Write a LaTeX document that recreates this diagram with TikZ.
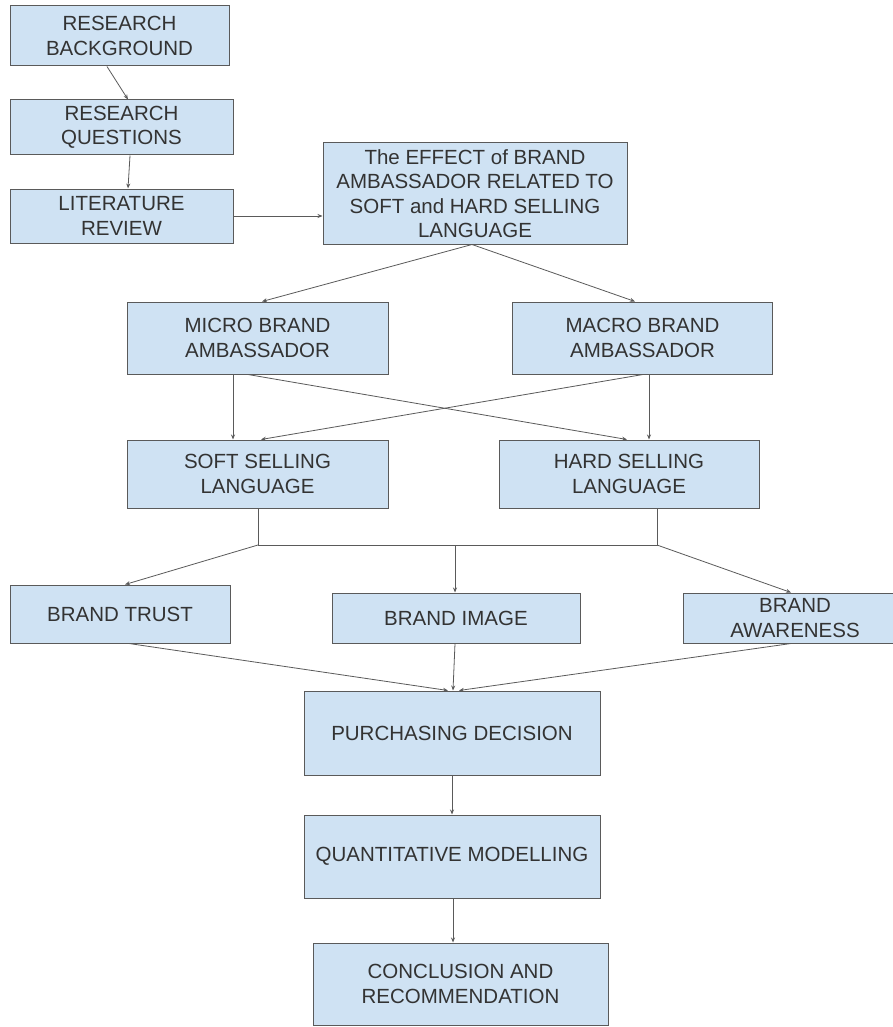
\documentclass[tikz,border=0pt]{standalone}
\usepackage{fontspec}
\setmainfont{Liberation Sans}
\usetikzlibrary{arrows.meta}
\definecolor{boxfill}{HTML}{CFE2F3}
\definecolor{boxline}{HTML}{5A5A5A}
\definecolor{txtgray}{HTML}{333333}
\tikzset{
	stage/.style={draw=boxline, fill=boxfill, line width=1pt, text=txtgray, align=center, inner sep=2pt,
		font=\fontsize{20.5}{24.5}\selectfont},
	link/.style={draw=boxline, line width=0.8pt, -{Stealth[length=5pt,width=4pt]}},
	plain/.style={draw=boxline, line width=0.8pt}
}
\begin{document}
\begin{tikzpicture}[x=1pt,y=1pt]
			\useasboundingbox (0,0) rectangle (893,-1027);
			\clip (0,0) rectangle (893,-1027);
			\fill[white] (0,0) rectangle (893,-1027);
			
			% left column
			\node[stage, minimum width=219pt, minimum height=60pt] (bg) at (119.5,-36) {RESEARCH\\BACKGROUND};
			\node[stage, minimum width=223pt, minimum height=55pt] (rq) at (121.5,-127.5) {RESEARCH\\QUESTIONS};
			\node[stage, minimum width=223pt, minimum height=54pt] (lit) at (121.5,-216) {LITERATURE\\REVIEW};
			\node[stage, minimum width=304pt, minimum height=101pt] (effect) at (475,-193.5) {The EFFECT of BRAND\\AMBASSADOR RELATED TO\\SOFT and HARD SELLING\\LANGUAGE};
			
			% ambassadors and language
			\node[stage, minimum width=261pt, minimum height=72pt] (micro) at (257.5,-338) {MICRO BRAND\\AMBASSADOR};
			\node[stage, minimum width=260pt, minimum height=72pt] (macro) at (642.5,-338) {MACRO BRAND\\AMBASSADOR};
			\node[stage, minimum width=261pt, minimum height=68pt] (soft) at (257.5,-474) {SOFT SELLING\\LANGUAGE};
			\node[stage, minimum width=260pt, minimum height=68pt] (hard) at (629,-474) {HARD SELLING\\LANGUAGE};
			
			% brand
			\node[stage, minimum width=220pt, minimum height=58pt] (trust) at (120,-614) {BRAND TRUST};
			\node[stage, minimum width=248pt, minimum height=50pt] (image) at (456,-618) {BRAND IMAGE};
			\node[stage, minimum width=224pt, minimum height=50pt] (aware) at (795,-618) {BRAND\\AWARENESS};
			
			% bottom column
			\node[stage, minimum width=296pt, minimum height=84pt] (buy) at (452,-733) {PURCHASING DECISION};
			\node[stage, minimum width=296pt, minimum height=83pt] (quant) at (452,-856.5) {QUANTITATIVE MODELLING};
			\node[stage, minimum width=295pt, minimum height=82pt] (concl) at (460.5,-984) {CONCLUSION AND\\RECOMMENDATION};
			
			\coordinate (jl) at (258,-545);
			\coordinate (jm) at (455,-545);
			\coordinate (jr) at (657,-545);
			
			\draw[link] ([xshift=-12.5pt]bg.south) -- ([xshift=6.5pt]rq.north);
			\draw[link] ([xshift=8.5pt]rq.south) -- ([xshift=6.5pt]lit.north);
			\draw[link] (lit.east) -- (lit.east -| effect.west);
			\draw[link] ([xshift=-3pt]effect.south) -- ([xshift=4.5pt]micro.north);
			\draw[link] ([xshift=-3pt]effect.south) -- ([xshift=-7.5pt]macro.north);
			
			\foreach \s/\a/\t/\b in {micro/-24.5/soft/-24.5, micro/-9.5/hard/-2, macro/0.5/soft/3.5, macro/6.5/hard/20}
			{
				\draw[link] ([xshift=\a pt]\s.south) -- ([xshift=\b pt]\t.north);
			}
			
			\draw[plain] (soft.south -| jl) -- (jl) -- (jr) -- (jr |- hard.south);
			\draw[link] (jl) -- ([xshift=5pt]trust.north);
			\draw[link] (jm) -- ([xshift=-1pt]image.north);
			\draw[link] (jr) -- ([xshift=-4pt]aware.north);
			
			\foreach \s/\a/\b in {trust/9/-4, image/-1/1, aware/-4/7}
			{
				\draw[link] ([xshift=\a pt]\s.south) -- ([xshift=\b pt]buy.north);
			}
			
			\draw[link] (buy.south) -- (quant.north);
			\draw[link] ([xshift=1pt]quant.south) -- ([xshift=-7.5pt]concl.north);
			
		\end{tikzpicture}
\end{document}
